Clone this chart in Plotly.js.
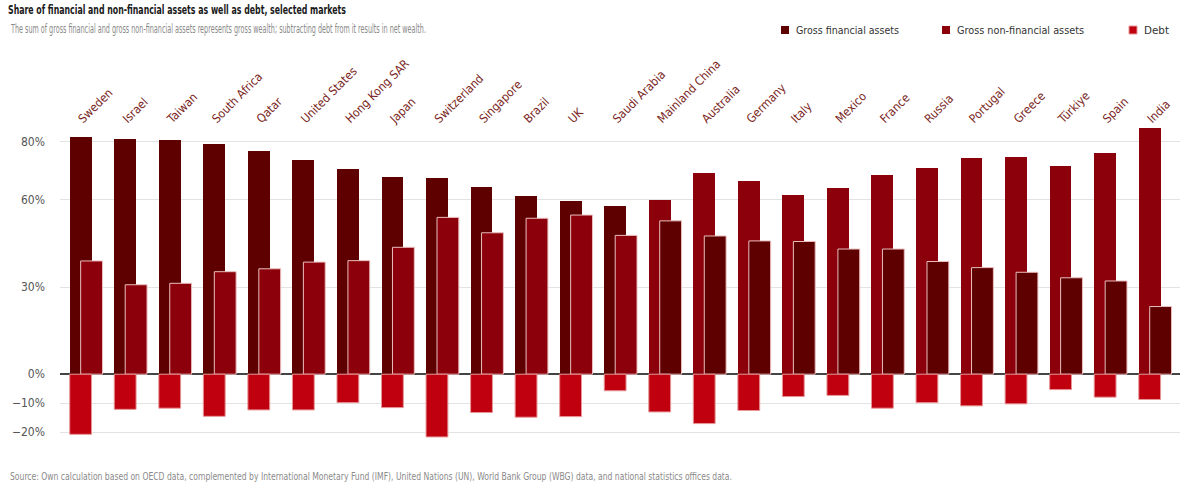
<!DOCTYPE html>
<html>
<head>
<meta charset="utf-8">
<script src="https://cdn.plot.ly/plotly-3.0.1.min.js"></script>
<style>html,body{margin:0;padding:0;background:#fff}#chart{width:1200px;height:497px}</style>
</head>
<body>
<div id="chart"></div>
<script>
const countries = ["Sweden","Israel","Taiwan","South Africa","Qatar","United States","Hong Kong SAR","Japan","Switzerland","Singapore","Brazil","UK","Saudi Arabia","Mainland China","Australia","Germany","Italy","Mexico","France","Russia","Portugal","Greece","Türkiye","Spain","India"];
const financial = [81.8,81.1,80.5,79.3,76.9,73.7,70.6,67.8,67.5,64.5,61.5,59.8,57.8,52.8,47.6,45.9,45.7,43.1,43.1,38.8,36.7,35.1,33.2,32.1,23.3];
const nonFinancial = [39.0,30.8,31.3,35.3,36.3,38.6,39.1,43.7,54.0,48.7,53.7,54.8,47.8,60.0,69.2,66.4,61.7,64.0,68.6,70.9,74.5,74.9,71.8,76.0,84.9];
const debt = [-20.7,-12.1,-11.7,-14.5,-12.3,-12.3,-9.8,-11.5,-21.6,-13.2,-14.8,-14.6,-5.7,-13.0,-17.0,-12.5,-7.7,-7.3,-11.7,-9.8,-10.9,-10.2,-5.3,-7.9,-8.7];
const yTickVals = [-20,-10,0,30,60,80];
const yTickText = ["−20%","−10%","0%","30%","60%","80%"];

const C_FIN = "#5e0000", C_NON = "#8b000b", C_DEBT = "#c0000f";
const FONT = "'DejaVu Sans Condensed', 'Liberation Sans', sans-serif";
const W = 0.49, OFF_L = -0.366, OFF_R = -0.12;
const EDGE = "rgba(235,190,190,1)";

// Taller bar sits behind on the left; shorter bar in front on the right.
const finL = financial.map((v,i)=> v >= nonFinancial[i] ? v : null);
const nonL = nonFinancial.map((v,i)=> v > financial[i] ? v : null);
const finR = financial.map((v,i)=> v < nonFinancial[i] ? v : null);
const nonR = nonFinancial.map((v,i)=> v <= financial[i] ? v : null);

function bar(y, color, off, name, show, group, edge) {
  return {type:"bar", x:countries, y:y, name:name, showlegend:show, legendgroup:group,
    width:W, offset:off, marker:{color:color, line:{color:edge||color, width:edge?1:0}},
    hoverinfo:"x+y"};
}
const data = [
  bar(finL, C_FIN, OFF_L, "Gross financial assets", true, "fin"),
  bar(nonL, C_NON, OFF_L, "Gross non-financial assets", true, "non"),
  bar(finR, C_FIN, OFF_R, "Gross financial assets", false, "fin", EDGE),
  bar(nonR, C_NON, OFF_R, "Gross non-financial assets", false, "non", EDGE),
  bar(debt, C_DEBT, OFF_L, "Debt", true, "debt", "rgba(230,150,150,1)")
];

const layout = {
  width:1200, height:497,
  margin:{l:60, r:20, t:123, b:56.3},
  paper_bgcolor:"#fff", plot_bgcolor:"#fff",
  barmode:"overlay", bargap:0,
  font:{family:FONT, size:12, color:"#444"},
  title:{text:"Share of financial and non-financial assets as well as debt, selected markets",
    x:8/1200, xanchor:"left", xref:"container", y:1-10/497, yanchor:"middle", yref:"container",
    font:{family:FONT, size:11.5, weight:700, color:"#1a1a1a"}},
  xaxis:{type:"category", side:"top", range:[-0.584, 24.56], tickangle:-45,
    ticklabelshift:-7, ticklabelstandoff:-6,
    tickfont:{family:FONT, size:12, color:"#7a1f23"}, showgrid:false, showline:false, ticks:"", zeroline:false, fixedrange:true},
  yaxis:{range:[-23, 86.5], tickvals:yTickVals, ticktext:yTickText, showgrid:true, gridcolor:"#e3e3e3", gridwidth:1,
    zeroline:true, zerolinecolor:"#444", zerolinewidth:1.5, showline:false, ticks:"", ticklabelstandoff:14,
    tickfont:{family:FONT, size:12, color:"#555"}, fixedrange:true},
  legend:{orientation:"h", xref:"container", yref:"container", x:0.634, xanchor:"left", y:1-30/497, yanchor:"middle",
    font:{family:FONT, size:11, color:"#333"}, traceorder:"normal", bgcolor:"rgba(0,0,0,0)"},
  annotations:[
    {text:"The sum of gross financial and gross non-financial assets represents gross wealth; subtracting debt from it results in net wealth.",
      xref:"paper", yref:"paper", x:-52/1120, xanchor:"left", align:"left", y:(440.7-29)/317.5, yanchor:"middle", showarrow:false,
      font:{family:FONT, size:11.5, color:"#8a8a8a"}},
    {text:"Source: Own calculation based on OECD data, complemented by International Monetary Fund (IMF), United Nations (UN), World Bank Group (WBG) data, and national statistics offices data.",
      xref:"paper", yref:"paper", x:-52/1120, xanchor:"left", align:"left", y:(440.7-476)/317.5, yanchor:"middle", showarrow:false,
      font:{family:FONT, size:10, color:"#8a8a8a"}}
  ]
};
Plotly.newPlot("chart", data, layout, {displayModeBar:false, staticPlot:true}).then(function(gd){
  // emulate the reference's condensed typeface by fitting text to its measured width
  function fit(el, w){ if(el){ el.setAttribute("textLength", w); el.setAttribute("lengthAdjust","spacingAndGlyphs"); } }
  fit(gd.querySelector(".gtitle"), 338);
  const ann = gd.querySelectorAll(".annotation-text");
  fit(ann[0], 415);
  fit(ann[1], 722);
  // legend: smaller swatches, tighter text gap, reference spacing
  const sb = gd.querySelector(".legend .scrollbox");
  if (sb) sb.removeAttribute("clip-path");
  const textW = [103, 127, 25];
  const targets = [785, 946, 1133];
  const box = gd.getBoundingClientRect();
  gd.querySelectorAll(".legend .traces").forEach(function(it, i){
    const p = it.querySelector(".legendpoints path");
    if (p) p.setAttribute("d", "M4,4H-4V-4H4Z");
    const t = it.querySelector(".legendtext");
    if (t) { t.setAttribute("x", +t.getAttribute("x") - 9); fit(t, textW[i]); }
    if (p) {
      const r = p.getBoundingClientRect();
      const cx = r.left + r.width/2 - box.left;
      const m = /translate\(([-\d.e]+)[ ,]*([-\d.e]*)\)/.exec(it.getAttribute("transform") || "translate(0,0)");
      const tx = +m[1] + targets[i] - cx, ty = +(m[2] || 0);
      it.setAttribute("transform", "translate(" + tx + "," + ty + ")");
    }
  });
});
</script>
</body>
</html>
